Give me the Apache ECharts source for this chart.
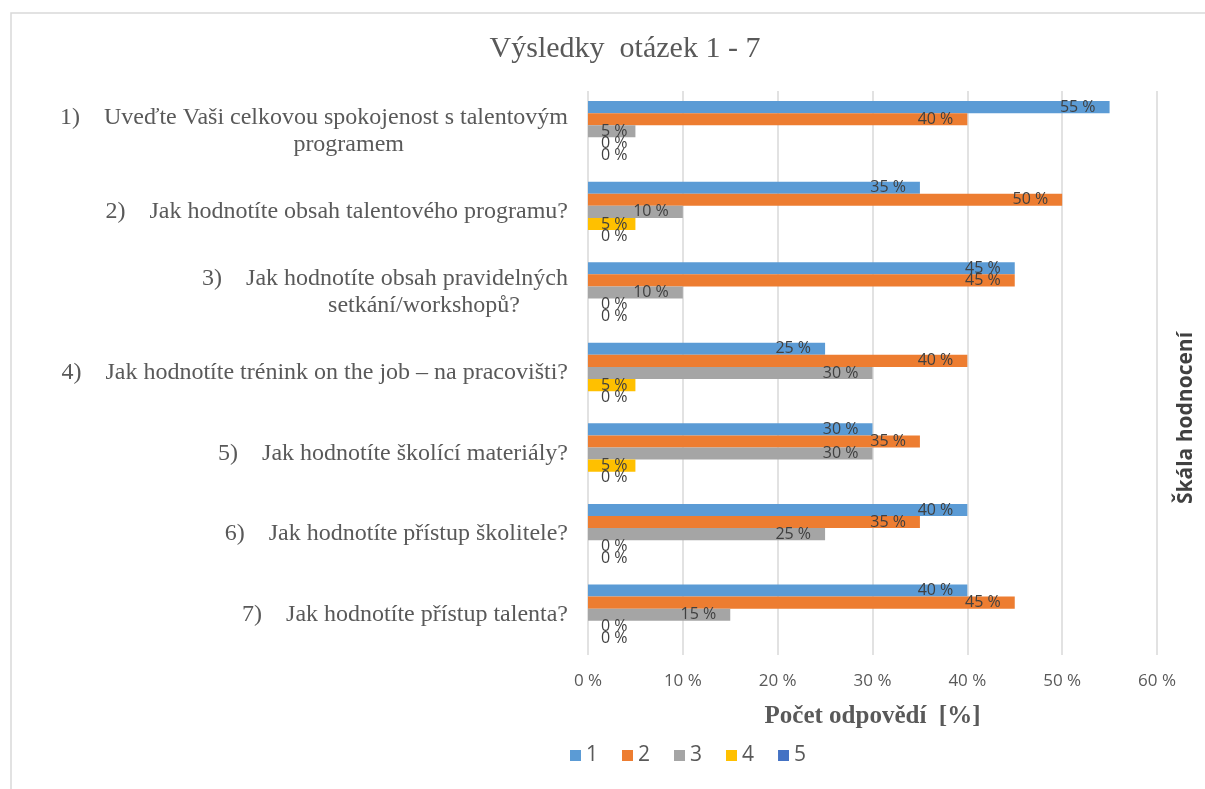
<!DOCTYPE html>
<html>
<head>
<meta charset="utf-8">
<title>Výsledky otázek 1 - 7</title>
<script src="https://cdn.jsdelivr.net/npm/echarts@6/dist/echarts.min.js"></script>
<style>
  html, body { margin: 0; padding: 0; background: #fff; }
  #chart { width: 1205px; height: 789px; }
</style>
</head>
<body>
<div id="chart"></div>
<script>
// questions (y axis)
const categories = [
  '1)    Uveďte Vaši celkovou spokojenost s talentovým\nprogramem',
  '2)    Jak hodnotíte obsah talentového programu?',
  '3)    Jak hodnotíte obsah pravidelných\nsetkání/workshopů?',
  '4)    Jak hodnotíte trénink on the job – na pracovišti?',
  '5)    Jak hodnotíte školící materiály?',
  '6)    Jak hodnotíte přístup školitele?',
  '7)    Jak hodnotíte přístup talenta?'
]
// rating scale 1 - 5, share of answers in %
const seriesNames = ['1', '2', '3', '4', '5']
const rating1 = [55, 35, 45, 25, 30, 40, 40]
const rating2 = [40, 50, 45, 40, 35, 35, 45]
const rating3 = [5, 10, 10, 30, 30, 25, 15]
const rating4 = [0, 5, 0, 5, 5, 0, 0]
const rating5 = [0, 0, 0, 0, 0, 0, 0]
const xTicks = [0, 10, 20, 30, 40, 50, 60]

const colors = ['#5B9BD5', '#ED7D31', '#A5A5A5', '#FFC000', '#4472C4']
const serif = '"Liberation Serif", "Times New Roman", serif'
const sans = '"Open Sans", "Liberation Sans", sans-serif'

// second line of the wrapped questions is shifted left a bit like in the original
const secondLinePad = { 0: 164, 2: 48 }

const chart = echarts.init(document.getElementById('chart'))

function toItems(values) {
  // tiny bars: label sits at the start of the bar instead of inside end
  return values.map(v => v <= 5
    ? { value: v, label: { position: 'insideLeft', distance: 13 } }
    : v)
}

const all = [rating1, rating2, rating3, rating4, rating5]

chart.setOption({
  animation: false,
  color: colors,
  title: {
    text: 'Výsledky  otázek 1 - 7',
    left: 620,
    textAlign: 'center',
    top: 29,
    textStyle: {
      fontFamily: serif,
      fontWeight: 'normal',
      fontSize: 30,
      color: '#595959'
    }
  },
  legend: {
    data: seriesNames,
    left: 565,
    top: 740,
    icon: 'rect',
    itemWidth: 11,
    itemHeight: 11,
    itemGap: 24,
    textStyle: {
      fontFamily: sans,
      fontSize: 21,
      color: '#595959'
    }
  },
  grid: {
    left: 588,
    right: 48,
    top: 91,
    bottom: 134
  },
  xAxis: {
    type: 'value',
    min: xTicks[0],
    max: xTicks[xTicks.length - 1],
    interval: 10,
    name: 'Počet odpovědí  [%]',
    nameLocation: 'middle',
    nameGap: 49,
    nameTextStyle: {
      fontFamily: serif,
      fontWeight: 'bold',
      fontSize: 25,
      color: '#595959'
    },
    axisLine: { show: false },
    axisTick: { show: false },
    axisLabel: {
      margin: 18,
      formatter: '{value} %',
      fontFamily: sans,
      fontSize: 17,
      color: '#595959'
    },
    splitLine: {
      lineStyle: { color: '#D9D9D9', width: 1.5 }
    }
  },
  yAxis: {
    type: 'category',
    inverse: true,
    data: categories,
    axisLine: { show: false },
    axisTick: { show: false },
    axisLabel: {
      margin: 20,
      fontFamily: serif,
      fontSize: 24,
      lineHeight: 27,
      color: '#595959',
      formatter: (val, idx) => {
        const lines = val.split('\n')
        if (lines.length < 2) return val
        return lines[0] + '\n{p' + idx + '|' + lines[1] + '}'
      },
      rich: Object.fromEntries(Object.entries(secondLinePad).map(([k, pad]) => ['p' + k, {
        fontFamily: serif,
        fontSize: 24,
        lineHeight: 27,
        color: '#595959',
        padding: [0, pad, 0, 0]
      }]))
    }
  },
  graphic: [
    {
      type: 'rect',
      silent: true,
      shape: { x: 11, y: 13, width: 1400, height: 1000 },
      style: { fill: 'none', stroke: '#D9D9D9', lineWidth: 1.5 }
    },
    {
      type: 'text',
      x: 1186,
      y: 418,
      rotation: Math.PI / 2,
      style: {
        text: 'Škála hodnocení',
        align: 'center',
        verticalAlign: 'middle',
        fontFamily: sans,
        fontWeight: 'bold',
        fontSize: 21,
        fill: '#404040'
      }
    }
  ],
  series: all.map((values, i) => ({
    name: seriesNames[i],
    type: 'bar',
    barGap: '0%',
    barCategoryGap: '25%',
    data: toItems(values),
    label: {
      show: true,
      position: 'insideRight',
      distance: 14,
      formatter: '{c} %',
      fontFamily: sans,
      fontSize: 16,
      color: '#404040'
    }
  }))
})
</script>
</body>
</html>
